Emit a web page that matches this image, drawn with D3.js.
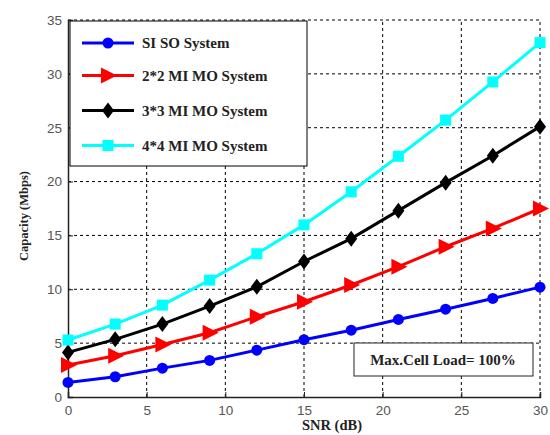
<!DOCTYPE html>
<html>
<head>
<meta charset="utf-8">
<script src="https://cdnjs.cloudflare.com/ajax/libs/d3/7.8.5/d3.min.js"></script>
<style>
  body { margin: 0; background: #fff; }
  svg { display: block; }
</style>
</head>
<body>
<svg width="550" height="435"></svg>
<script>
// datos
var snr = [0, 3, 6, 9, 12, 15, 18, 21, 24, 27, 30];
var siso = [1.35, 1.88, 2.68, 3.4, 4.35, 5.32, 6.2, 7.2, 8.15, 9.15, 10.2];
var mimo2 = [2.97, 3.83, 4.88, 5.97, 7.45, 8.84, 10.4, 12.1, 13.95, 15.65, 17.5];
var mimo3 = [4.14, 5.35, 6.77, 8.44, 10.23, 12.58, 14.7, 17.3, 19.9, 22.4, 25.1];
var mimo4 = [5.29, 6.77, 8.53, 10.85, 13.3, 15.98, 19.05, 22.35, 25.7, 29.25, 32.9];
var nombres = ["SI SO System", "2*2 MI MO System", "3*3 MI MO System", "4*4 MI MO System"];
var xTicks = [0, 5, 10, 15, 20, 25, 30];
var yTicks = [0, 5, 10, 15, 20, 25, 30, 35];

var series = [
  { nombre: nombres[0], valores: siso, color: "#0000ff", marca: "circle" },
  { nombre: nombres[1], valores: mimo2, color: "#ff0000", marca: "triangle" },
  { nombre: nombres[2], valores: mimo3, color: "#000000", marca: "diamond" },
  { nombre: nombres[3], valores: mimo4, color: "#00ffff", marca: "square" }
];

var svg = d3.select("svg");
var x = d3.scaleLinear().domain([0, 30]).range([68, 540]);
var y = d3.scaleLinear().domain([0, 35]).range([397, 20]);

// rejilla punteada
var g = svg.append("g");
g.selectAll(".gx").data(xTicks.slice(1)).enter().append("line")
  .attr("x1", d => x(d)).attr("x2", d => x(d))
  .attr("y1", y(0)).attr("y2", y(35))
  .attr("stroke", "#000").attr("stroke-width", 1).attr("stroke-dasharray", "3,3");
g.selectAll(".gy").data(yTicks.slice(1)).enter().append("line")
  .attr("x1", x(0)).attr("x2", x(30))
  .attr("y1", d => y(d)).attr("y2", d => y(d))
  .attr("stroke", "#000").attr("stroke-width", 1).attr("stroke-dasharray", "3,3");

// ejes
var ejeX = d3.axisBottom(x).tickValues(xTicks).tickSize(-5).tickPadding(8);
var ejeY = d3.axisLeft(y).tickValues(yTicks).tickSize(-5).tickPadding(6);
var gx = svg.append("g").attr("transform", "translate(0," + y(0) + ")").call(ejeX);
var gy = svg.append("g").attr("transform", "translate(" + x(0) + ",0)").call(ejeY);
[gx, gy].forEach(function (a) {
  a.select(".domain").attr("stroke", "#222").attr("stroke-width", 1.5);
  a.selectAll(".tick line").attr("stroke", "#222");
  a.selectAll("text").attr("font-family", "Liberation Sans, Arial, sans-serif")
    .attr("font-size", 13.5).attr("fill", "#555");
});

// títulos de ejes
svg.append("text").attr("x", 332).attr("y", 430).attr("text-anchor", "middle")
  .attr("font-family", "Liberation Serif, Times New Roman, serif").attr("font-weight", "bold")
  .attr("font-size", 14.5).attr("fill", "#222").text("SNR (dB)");
svg.append("text").attr("transform", "translate(28,216) rotate(-90)").attr("text-anchor", "middle")
  .attr("font-family", "Liberation Serif, Times New Roman, serif").attr("font-weight", "bold")
  .attr("font-size", 12.5).attr("fill", "#222").text("Capacity (Mbps)");

// marcadores
function dibujarMarca(sel, tipo, color, px, py) {
  if (tipo === "circle") {
    sel.append("circle").attr("cx", px).attr("cy", py).attr("r", 5.5).attr("fill", color);
  } else if (tipo === "triangle") {
    sel.append("path").attr("d", "M" + (px - 7) + "," + (py - 8) + "L" + (px + 9) + "," + py + "L" + (px - 7) + "," + (py + 8) + "Z").attr("fill", color);
  } else if (tipo === "diamond") {
    sel.append("path").attr("d", "M" + px + "," + (py - 8) + "L" + (px + 6) + "," + py + "L" + px + "," + (py + 8) + "L" + (px - 6) + "," + py + "Z").attr("fill", color);
  } else {
    sel.append("rect").attr("x", px - 5.5).attr("y", py - 5.5).attr("width", 11).attr("height", 11).attr("fill", color);
  }
}

var linea = d3.line().x((d, i) => x(snr[i])).y(d => y(d));
series.forEach(function (s) {
  var gs = svg.append("g");
  gs.append("path").attr("d", linea(s.valores)).attr("fill", "none")
    .attr("stroke", s.color).attr("stroke-width", 3);
  s.valores.forEach(function (v, i) { dibujarMarca(gs, s.marca, s.color, x(snr[i]), y(v)); });
});

// leyenda
var ley = svg.append("g");
ley.append("rect").attr("x", 70).attr("y", 21).attr("width", 237).attr("height", 145)
  .attr("fill", "#fff").attr("stroke", "#000").attr("stroke-width", 1);
var filas = [43, 75.5, 110.5, 145.5];
series.forEach(function (s, i) {
  ley.append("line").attr("x1", 82).attr("x2", 134).attr("y1", filas[i]).attr("y2", filas[i])
    .attr("stroke", s.color).attr("stroke-width", 3);
  dibujarMarca(ley, s.marca, s.color, 108, filas[i]);
  ley.append("text").attr("x", 142).attr("y", filas[i] + 5)
    .attr("font-family", "Liberation Serif, Times New Roman, serif").attr("font-weight", "bold")
    .attr("font-size", 15).attr("fill", "#222").text(s.nombre);
});

// anotación
svg.append("rect").attr("x", 354).attr("y", 343).attr("width", 179).attr("height", 33)
  .attr("fill", "#fff").attr("stroke", "#222").attr("stroke-width", 1);
svg.append("text").attr("x", 443).attr("y", 364.5).attr("text-anchor", "middle")
  .attr("font-family", "Liberation Serif, Times New Roman, serif").attr("font-weight", "bold")
  .attr("font-size", 15).attr("fill", "#222").text("Max.Cell Load= 100%");
</script>
</body>
</html>
